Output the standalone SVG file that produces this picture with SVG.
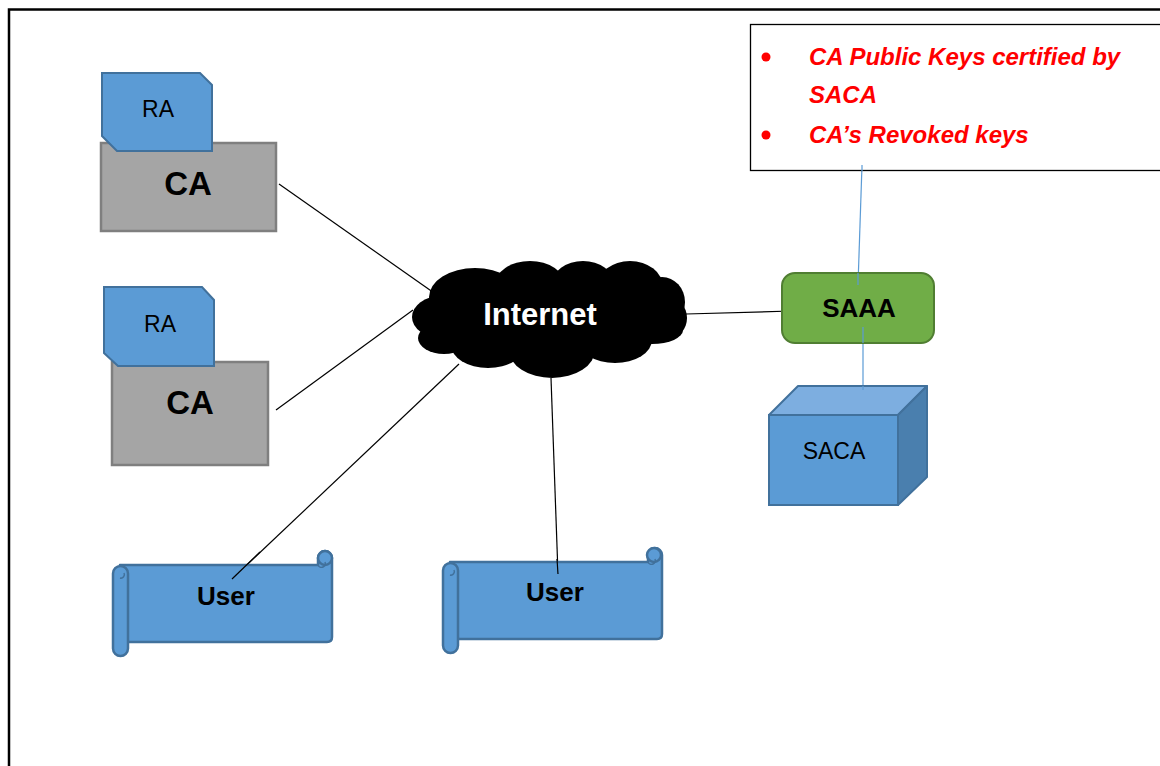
<svg xmlns="http://www.w3.org/2000/svg" width="1160" height="766" viewBox="0 0 1160 766">
<style>
.ra{fill:#5b9bd5;stroke:#41719c;stroke-width:2}
.ca{fill:#a5a5a5;stroke:#7f7f7f;stroke-width:2.5}
.blue{fill:#5b9bd5;stroke:#41719c;stroke-width:2.5;stroke-linejoin:round}
.t{font-family:"Liberation Sans",Arial,sans-serif;fill:#000;text-anchor:middle}
.b{font-weight:bold}
.conn{stroke:#000;stroke-width:1.2;fill:none}
.bconn{stroke:#5b9bd5;stroke-width:1.2;fill:none}
.red{font-family:"Liberation Sans",Arial,sans-serif;font-weight:bold;font-style:italic;fill:#ff0000;font-size:24px}
</style>
<rect width="1160" height="766" fill="#fff"/>
<path d="M9,766 V9.5 H1160" fill="none" stroke="#000" stroke-width="2.5"/>

<g id="connectors">
<line class="conn" x1="279" y1="184" x2="437" y2="295"/>
<line class="conn" x1="276" y1="410" x2="413" y2="310"/>
<line class="conn" x1="232" y1="579" x2="459" y2="364"/>
<line class="conn" x1="558" y1="574" x2="551" y2="378"/>
<line class="conn" x1="686" y1="314" x2="792" y2="311"/>
<line class="bconn" x1="862" y1="165" x2="858" y2="285"/>
<line class="bconn" x1="863" y1="327" x2="863" y2="390"/>
</g>

<g id="callout">
<rect x="750.5" y="24.5" width="412" height="146" fill="#fff" stroke="#000" stroke-width="1.3"/>
<line class="bconn" x1="862" y1="165" x2="862" y2="171"/>
<circle cx="766" cy="57" r="4.5" fill="#ff0000"/>
<circle cx="766" cy="135" r="4.5" fill="#ff0000"/>
<text class="red" x="809" y="65">CA Public Keys certified by</text>
<text class="red" x="809" y="103">SACA</text>
<text class="red" x="809" y="143">CA’s Revoked keys</text>
</g>

<g id="ca1">
<rect class="ca" x="101" y="143" width="175" height="88"/>
<polygon class="ra" points="102,73 200,73 212,85 212,151 117,151 102,136"/>
<text class="t" x="158" y="117" font-size="23">RA</text>
<text class="t b" x="188" y="195" font-size="33">CA</text>
</g>

<g id="ca2">
<rect class="ca" x="112" y="362" width="156" height="103"/>
<polygon class="ra" points="104,287 202,287 214,300 214,366 118,366 104,353"/>
<text class="t" x="160" y="332" font-size="23">RA</text>
<text class="t b" x="190" y="414" font-size="33">CA</text>
</g>

<g id="internet">
<g fill="#000">
<ellipse cx="550" cy="318" rx="122" ry="42"/>
<ellipse cx="475" cy="297" rx="46" ry="29"/>
<ellipse cx="530" cy="285" rx="35" ry="24"/>
<ellipse cx="583" cy="284" rx="31" ry="23"/>
<ellipse cx="630" cy="287" rx="33" ry="26"/>
<ellipse cx="662" cy="302" rx="23" ry="25"/>
<ellipse cx="669" cy="318" rx="18" ry="20"/>
<ellipse cx="441" cy="317" rx="29" ry="21"/>
<ellipse cx="444" cy="338" rx="26" ry="16"/>
<ellipse cx="488" cy="345" rx="37" ry="23"/>
<ellipse cx="552" cy="350" rx="43" ry="28"/>
<ellipse cx="615" cy="340" rx="37" ry="23"/>
<ellipse cx="652" cy="330" rx="31" ry="14"/>
</g>
<text class="t b" x="540" y="325" font-size="31" style="fill:#fff">Internet</text>
</g>

<g id="saaa">
<rect x="782" y="273" width="152" height="70" rx="13" fill="#70ad47" stroke="#507e32" stroke-width="2"/>
<text class="t b" x="859" y="317" font-size="26">SAAA</text>
</g>
<line class="bconn" x1="858" y1="273" x2="858" y2="285"/>
<line class="bconn" x1="863" y1="327" x2="863" y2="343"/>

<g id="saca">
<polygon points="769,415 798,386 927,386 898,415" fill="#7daee0" stroke="#41719c" stroke-width="2" stroke-linejoin="round"/>
<polygon points="898,415 927,386 927,477 898,505" fill="#4a7fae" stroke="#41719c" stroke-width="2" stroke-linejoin="round"/>
<rect x="769" y="415" width="129" height="90" fill="#5b9bd5" stroke="#41719c" stroke-width="2"/>
<line class="bconn" x1="863" y1="386" x2="863" y2="390"/>
<text class="t" x="834" y="459" font-size="23">SACA</text>
</g>

<g id="user1">
<path class="blue" d="M120,565 L318,565 L318,558 A7,7 0 0 1 332,558 L332,637 Q332,642 327,642 L128,642 Z"/>
<circle class="blue" cx="325" cy="558" r="7"/>
<path d="M318,565 A3.5,3.5 0 0 0 325,562" fill="none" stroke="#41719c" stroke-width="1.5"/>
<rect class="blue" x="113" y="566" width="15" height="90" rx="7.5"/>
<path d="M120,578 A3.5,3.5 0 0 0 124,573" fill="none" stroke="#41719c" stroke-width="1.5"/>
<text class="t b" x="226" y="605" font-size="26">User</text>
</g>

<g id="user2" transform="translate(330,-3)">
<path class="blue" d="M120,565 L318,565 L318,558 A7,7 0 0 1 332,558 L332,637 Q332,642 327,642 L128,642 Z"/>
<circle class="blue" cx="324" cy="558" r="7"/>
<path d="M318,565 A3.5,3.5 0 0 0 325,562" fill="none" stroke="#41719c" stroke-width="1.5"/>
<rect class="blue" x="113" y="566" width="15" height="90" rx="7.5"/>
<path d="M120,578 A3.5,3.5 0 0 0 124,573" fill="none" stroke="#41719c" stroke-width="1.5"/>
<text class="t b" x="225" y="604" font-size="26">User</text>
</g>

<g id="overlay-lines">
<line class="conn" x1="232" y1="579" x2="260" y2="552"/>
<line class="conn" x1="558" y1="574" x2="557" y2="559"/>
</g>
</svg>
